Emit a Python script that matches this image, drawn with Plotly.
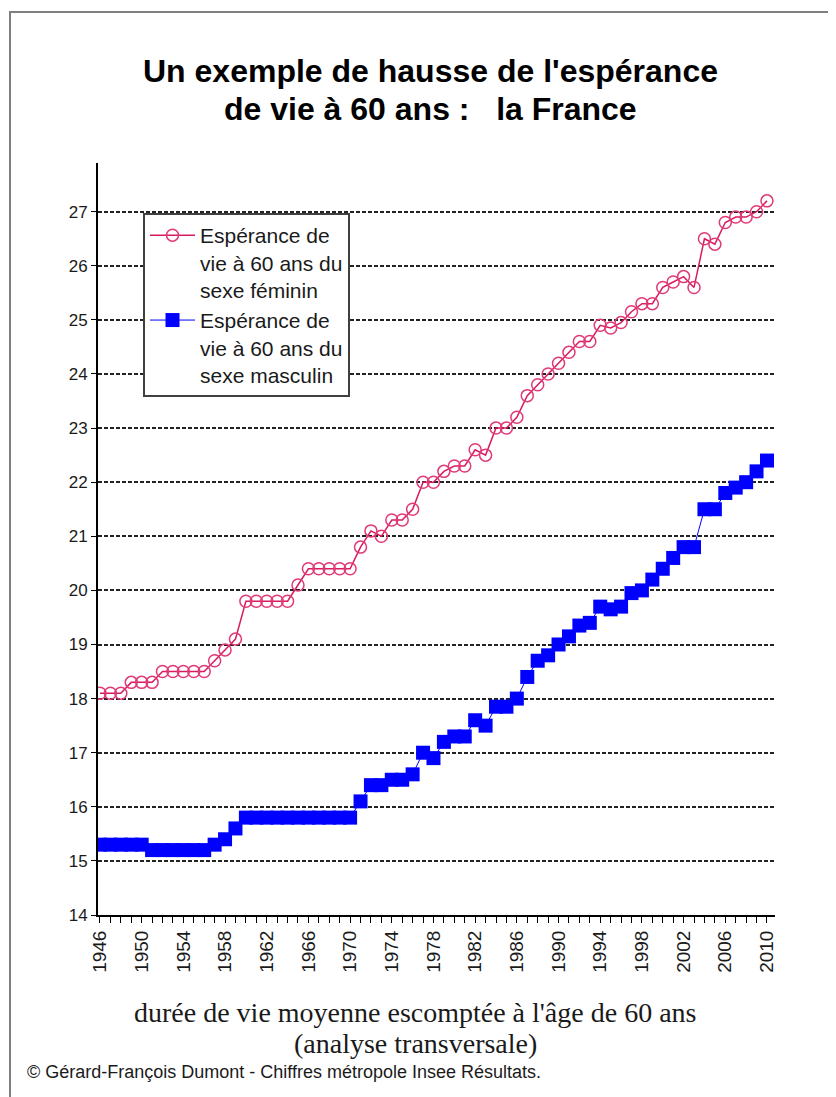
import plotly.graph_objects as go

years = list(range(1946, 2011))
female = [18.1, 18.1, 18.1, 18.3, 18.3, 18.3, 18.5, 18.5, 18.5, 18.5, 18.5,
          18.7, 18.9, 19.1, 19.8, 19.8, 19.8, 19.8, 19.8, 20.1,
          20.4, 20.4, 20.4, 20.4, 20.4, 20.8, 21.1, 21.0, 21.3, 21.3, 21.5,
          22.0, 22.0, 22.2, 22.3, 22.3, 22.6, 22.5,
          23.0, 23.0, 23.2, 23.6, 23.8, 24.0, 24.2, 24.4, 24.6, 24.6,
          24.9, 24.85, 24.95, 25.15, 25.3, 25.3, 25.6, 25.7, 25.8, 25.6,
          26.5, 26.4, 26.8, 26.9, 26.9, 27.0, 27.2]
male = [15.3, 15.3, 15.3, 15.3, 15.3, 15.2, 15.2, 15.2, 15.2, 15.2, 15.2,
        15.3, 15.4, 15.6, 15.8, 15.8, 15.8, 15.8, 15.8, 15.8,
        15.8, 15.8, 15.8, 15.8, 15.8, 16.1, 16.4, 16.4, 16.5, 16.5, 16.6,
        17.0, 16.9, 17.2, 17.3, 17.3, 17.6, 17.5,
        17.85, 17.85, 18.0, 18.4, 18.7, 18.8, 19.0, 19.15, 19.35, 19.4,
        19.7, 19.65, 19.7, 19.95, 20.0, 20.2, 20.4, 20.6, 20.8, 20.8,
        21.5, 21.5, 21.8, 21.9, 22.0, 22.2, 22.4]
year_labels = list(range(1946, 2011, 4))
y_ticks = list(range(14, 28))

name_f = "Espérance de<br>vie à 60 ans du<br>sexe féminin"
name_m = "Espérance de<br>vie à 60 ans du<br>sexe masculin"
title_l1 = "Un exemple de hausse de l'espérance"
title_l2 = "de vie à 60 ans :   la France"
xtitle_l1 = "durée de vie moyenne escomptée à l'âge de 60 ans"
xtitle_l2 = "(analyse transversale)"
footer = "© Gérard-François Dumont - Chiffres métropole Insee Résultats."

W, H = 836, 1097
OFF = 8  # page body offset
L, R, T, B = 98, 775, 163, 915  # plot area in screen pixels


def px(x):
    return (x - L) / (R - L)


def py(y):
    return (B - y) / (B - T)


fig = go.Figure()
fig.add_trace(go.Scatter(
    x=years, y=female, name=name_f, mode="lines+markers",
    line=dict(color="#D81B60", width=1.5),
    marker=dict(symbol="circle-open", size=12, color="#E03A78",
                line=dict(color="#E03A78", width=1.5)),
))
fig.add_trace(go.Scatter(
    x=years, y=male, name=name_m, mode="lines+markers",
    line=dict(color="#0000FF", width=1),
    marker=dict(symbol="square", size=14, color="#0000FF"),
))

font_sans = "Liberation Sans, Arial, sans-serif"
font_serif = "Liberation Serif, Times New Roman, serif"

fig.update_layout(
    width=W, height=H,
    margin=dict(l=L - OFF, r=W - (L - OFF) - (R - L), t=T - OFF,
                b=H - (T - OFF) - (B - T), pad=0),
    paper_bgcolor="white", plot_bgcolor="white",
    showlegend=True,
    legend=dict(
        x=px(143), y=py(213), xanchor="left", yanchor="top",
        bgcolor="white", bordercolor="#404040", borderwidth=2,
        font=dict(family=font_sans, size=21, color="#1a1a1a"),
        valign="top", tracegroupgap=0, itemwidth=45,
        entrywidth=240, entrywidthmode="pixels",
    ),
    xaxis=dict(
        range=[1945.81, 2010.77], tickmode="array", tickvals=year_labels,
        ticktext=[str(v) for v in year_labels], tickangle=-90,
        ticks="outside", ticklen=6, tickcolor="black", tickwidth=1,
        minor=dict(dtick=1, tick0=1946, ticks="outside", ticklen=6,
                   tickcolor="black", tickwidth=1, showgrid=False),
        showgrid=False, zeroline=False,
        showline=True, linecolor="black", linewidth=2,
        tickfont=dict(family=font_sans, size=19, color="#1a1a1a"),
    ),
    yaxis=dict(
        range=[14, 27.9], tickmode="array", tickvals=y_ticks,
        ticks="outside", ticklen=5, tickcolor="black",
        showgrid=True, gridcolor="#222222", gridwidth=1.5, griddash="4px,2px",
        zeroline=False, showline=True, linecolor="black", linewidth=2,
        tickfont=dict(family=font_sans, size=17, color="#1a1a1a"),
    ),
    shapes=[
        dict(type="rect", xref="paper", yref="paper",
             x0=px(10), x1=px(845), y0=py(1110), y1=py(12),
             line=dict(color="#7f7f7f", width=2), layer="below"),
    ],
    annotations=[
        dict(text=title_l1, x=px(430), y=py(71), xref="paper", yref="paper",
             showarrow=False, xanchor="center", yanchor="middle",
             font=dict(family=font_sans, size=32, color="black", weight="bold")),
        dict(text=title_l2, x=px(430), y=py(109), xref="paper", yref="paper",
             showarrow=False, xanchor="center", yanchor="middle",
             font=dict(family=font_sans, size=32, color="black", weight="bold")),
        dict(text=xtitle_l1, x=px(415), y=py(1012), xref="paper", yref="paper",
             showarrow=False, xanchor="center", yanchor="middle",
             font=dict(family=font_serif, size=28, color="#1a1a1a")),
        dict(text=xtitle_l2, x=px(415), y=py(1043), xref="paper", yref="paper",
             showarrow=False, xanchor="center", yanchor="middle",
             font=dict(family=font_serif, size=28, color="#1a1a1a")),
        dict(text=footer, x=px(25), y=py(1072), xref="paper", yref="paper",
             showarrow=False, xanchor="left", yanchor="middle",
             font=dict(family=font_sans, size=18, color="#1a1a1a")),
    ],
)

fig.write_html("out.html")
